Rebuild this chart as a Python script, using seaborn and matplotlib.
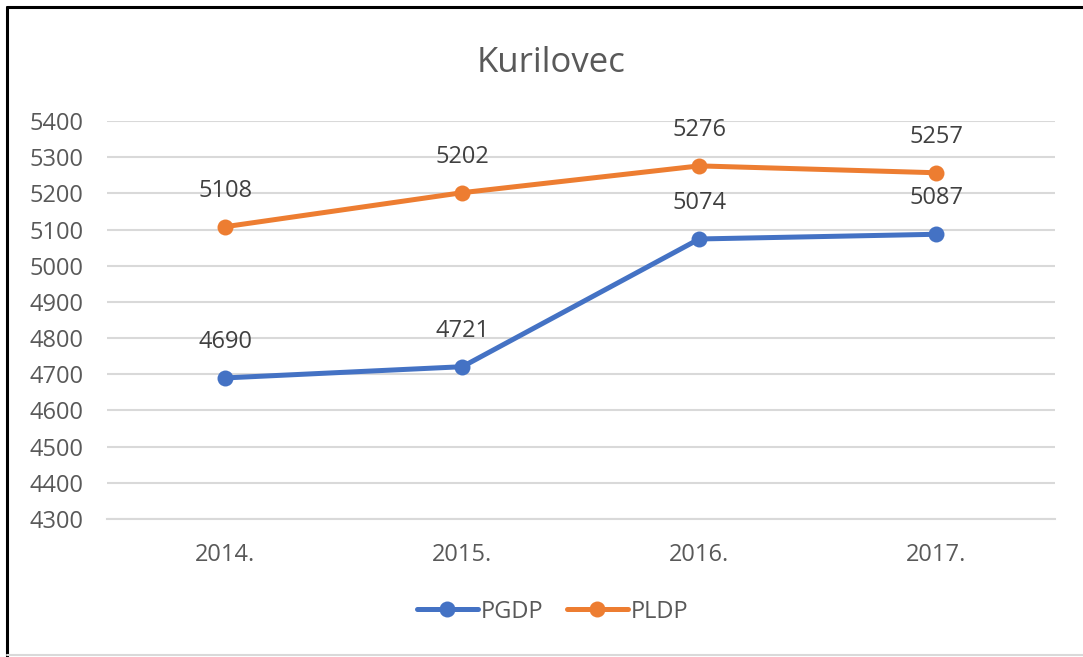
import pandas as pd
import seaborn as sns
import matplotlib.pyplot as plt
from matplotlib.lines import Line2D

# Chart data
years = ['2014.', '2015.', '2016.', '2017.']
pgdp = [4690, 4721, 5074, 5087]
pldp = [5108, 5202, 5276, 5257]

df = pd.DataFrame({
    'Godina': years * 2,
    'Vrijednost': pgdp + pldp,
    'Serija': ['PGDP'] * len(years) + ['PLDP'] * len(years),
})

sns.set_style('white')
plt.rcParams['font.family'] = ['Open Sans', 'DejaVu Sans']

fig = plt.figure(figsize=(10.83, 6.57), dpi=100)
ax = fig.add_axes([0.0988, 0.21, 0.875, 0.6058])

palette = {'PGDP': '#4472C4', 'PLDP': '#ED7D31'}
sns.lineplot(data=df, x='Godina', y='Vrijednost', hue='Serija', palette=palette,
             marker='o', markersize=11.5, markeredgewidth=0, linewidth=3.6,
             sort=False, ax=ax, legend=True)

# data labels
for name, vals in [('PGDP', pgdp), ('PLDP', pldp)]:
    for i, v in enumerate(vals):
        ax.annotate(str(v), (i, v), xytext=(0, 26), textcoords='offset points',
                    ha='center', va='center', fontsize=17, color='#404040')

ax.set_ylim(4300, 5400)
ax.set_yticks(range(4300, 5401, 100))
ax.set_xlim(-0.5, 3.5)
ax.yaxis.grid(True, color='#D9D9D9', linewidth=1.5)
ax.set_axisbelow(True)
for s in ax.spines.values():
    s.set_visible(False)
ax.spines['bottom'].set_visible(True)
ax.spines['bottom'].set_color('#D9D9D9')
ax.spines['bottom'].set_linewidth(1.5)
ax.tick_params(axis='both', length=0, labelsize=17, labelcolor='#595959')
ax.tick_params(axis='y', pad=17)
ax.tick_params(axis='x', pad=17)
ax.set_xlabel('')
ax.set_ylabel('')

fig.text(0.509, 1 - 72 / 657, 'Kurilovec', ha='center', va='baseline', fontsize=25, color='#595959')

handles, labels = ax.get_legend_handles_labels()
ax.legend_.remove()
leg = fig.legend(handles, labels, loc='center', bbox_to_anchor=(0.51, 0.069), ncol=2,
                 frameon=False, fontsize=17, handlelength=2.6, columnspacing=1.0,
                 handletextpad=0.1)
for t in leg.get_texts():
    t.set_color('#595959')

# frame around the chart
fig.add_artist(Line2D([7 / 1083, 7 / 1083], [0, 1 - 7 / 657], color='black', linewidth=2.2))
fig.add_artist(Line2D([7 / 1083, 1], [1 - 7 / 657, 1 - 7 / 657], color='black', linewidth=2.2))
fig.add_artist(Line2D([7 / 1083, 1], [2 / 657, 2 / 657], color='#D9D9D9', linewidth=1.5))

fig.savefig('out.png', dpi=100)
